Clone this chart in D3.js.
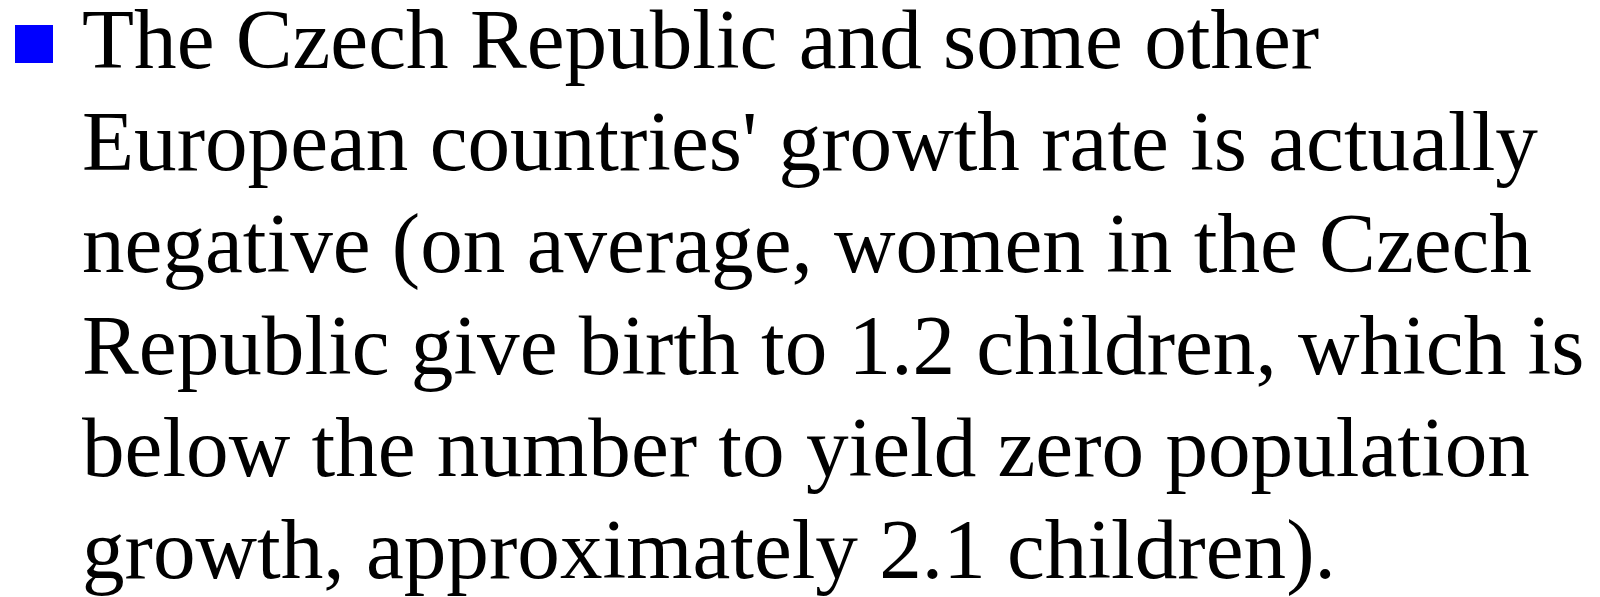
<!DOCTYPE html>
<html>
<head>
<meta charset="utf-8">
<script src="https://cdn.jsdelivr.net/npm/d3@7"></script>
<style>
  html, body { margin: 0; padding: 0; background: #ffffff; }
  svg { display: block; }
</style>
</head>
<body>
<div id="chart"></div>
<script>
const lines = [
  "The Czech Republic and some other",
  "European countries' growth rate is actually",
  "negative (on average, women in the Czech",
  "Republic give birth to 1.2 children, which is",
  "below the number to yield zero population",
  "growth, approximately 2.1 children)."
];
const bulletColor = "#0000ff";

const width = 1600, height = 597;
const svg = d3.select("#chart").append("svg")
  .attr("width", width).attr("height", height);

const y = d3.scaleLinear().domain([0, lines.length - 1]).range([68, 578]);

svg.append("rect")
  .attr("x", 15).attr("y", 25)
  .attr("width", 38).attr("height", 38)
  .attr("fill", bulletColor);

svg.selectAll("text.line")
  .data(lines)
  .join("text")
  .attr("class", "line")
  .attr("x", 82)
  .attr("y", (d, i) => y(i))
  .attr("font-family", "'Liberation Serif', 'Times New Roman', serif")
  .attr("font-size", 85.2)
  .attr("fill", "#000000")
  .text(d => d);
</script>
</body>
</html>
